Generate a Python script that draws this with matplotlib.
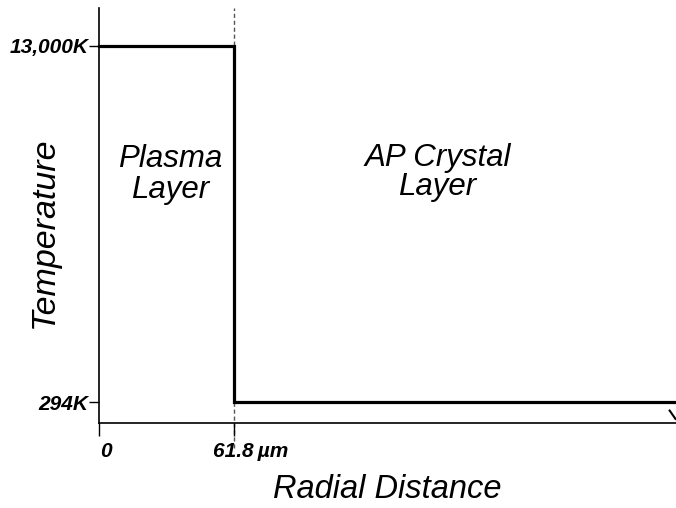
import matplotlib
matplotlib.use("Agg")
import matplotlib.pyplot as plt

# Data (schematic temperature profile)
interface_um = 61.8
x_end = 265.0
temps = [13000, 294]  # plasma layer, AP crystal layer
x_profile = [0, interface_um, interface_um, x_end]
y_profile = [temps[0], temps[0], temps[1], temps[1]]
xtick_vals = [0, interface_um]
xtick_labels = ["0", "61.8\u2009\u00b5m"]
ytick_vals = [294, 13000]
ytick_labels = ["294K", "13,000K"]

plt.rcParams['font.family'] = ['Liberation Sans', 'DejaVu Sans']

fig = plt.figure(figsize=(6.76, 5.08), dpi=100)
ax = fig.add_axes([99/676, 1-423/508, (676-99)/676, (423-8)/508])

ax.plot(x_profile, y_profile, color='black', lw=2.3, solid_joinstyle='miter', clip_on=False)
ax.plot([interface_um, interface_um], [-1350, 14356], color='#555555', lw=1.0,
        ls=(0, (3, 2)), clip_on=False, zorder=1)

ax.set_xlim(0, x_end)
ax.set_ylim(-455, 14356)

for s in ['top', 'right']:
    ax.spines[s].set_visible(False)
for s in ['left', 'bottom']:
    ax.spines[s].set_linewidth(1.2)

ax.set_xticks(xtick_vals)
ax.set_xticklabels([])
x_offsets = [1, -21]  # pixel offsets of label left edges relative to ticks
for xv, lab, dx in zip(xtick_vals, xtick_labels, x_offsets):
    ax.annotate(lab, xy=(xv, 0), xycoords=('data', 'axes fraction'),
                xytext=(dx * 0.72, -14), textcoords='offset points',
                ha='left', va='top', fontsize=15, fontweight='bold', style='italic')
ax.set_yticks(ytick_vals)
ax.set_yticklabels(ytick_labels, fontsize=15, fontweight='bold', style='italic')
ax.tick_params(axis='x', direction='out', length=9, width=1.0)
ax.tick_params(axis='y', direction='out', length=7, width=1.0, pad=0.5)

ax.set_xlabel("Radial Distance", fontsize=23.5, style='italic')
ax.xaxis.set_label_coords(0.5, -0.123)
ax.set_ylabel("Temperature", fontsize=24.5, style='italic')
ax.yaxis.set_label_coords(-0.068, 0.46)

ax.text(32.8, 8400, "Plasma\nLayer", fontsize=22.5, style='italic', ha='center', va='center',
        linespacing=1.05)
ax.text(155.5, 8500, "AP Crystal\nLayer", fontsize=22.5, style='italic', ha='center', va='center',
        linespacing=0.95)

# axis break mark at bottom-right
ax.plot([0.989, 0.999], [0.03, 0.01], transform=ax.transAxes, color='black', lw=1.5, clip_on=False)

fig.savefig("out.png", dpi=100)
